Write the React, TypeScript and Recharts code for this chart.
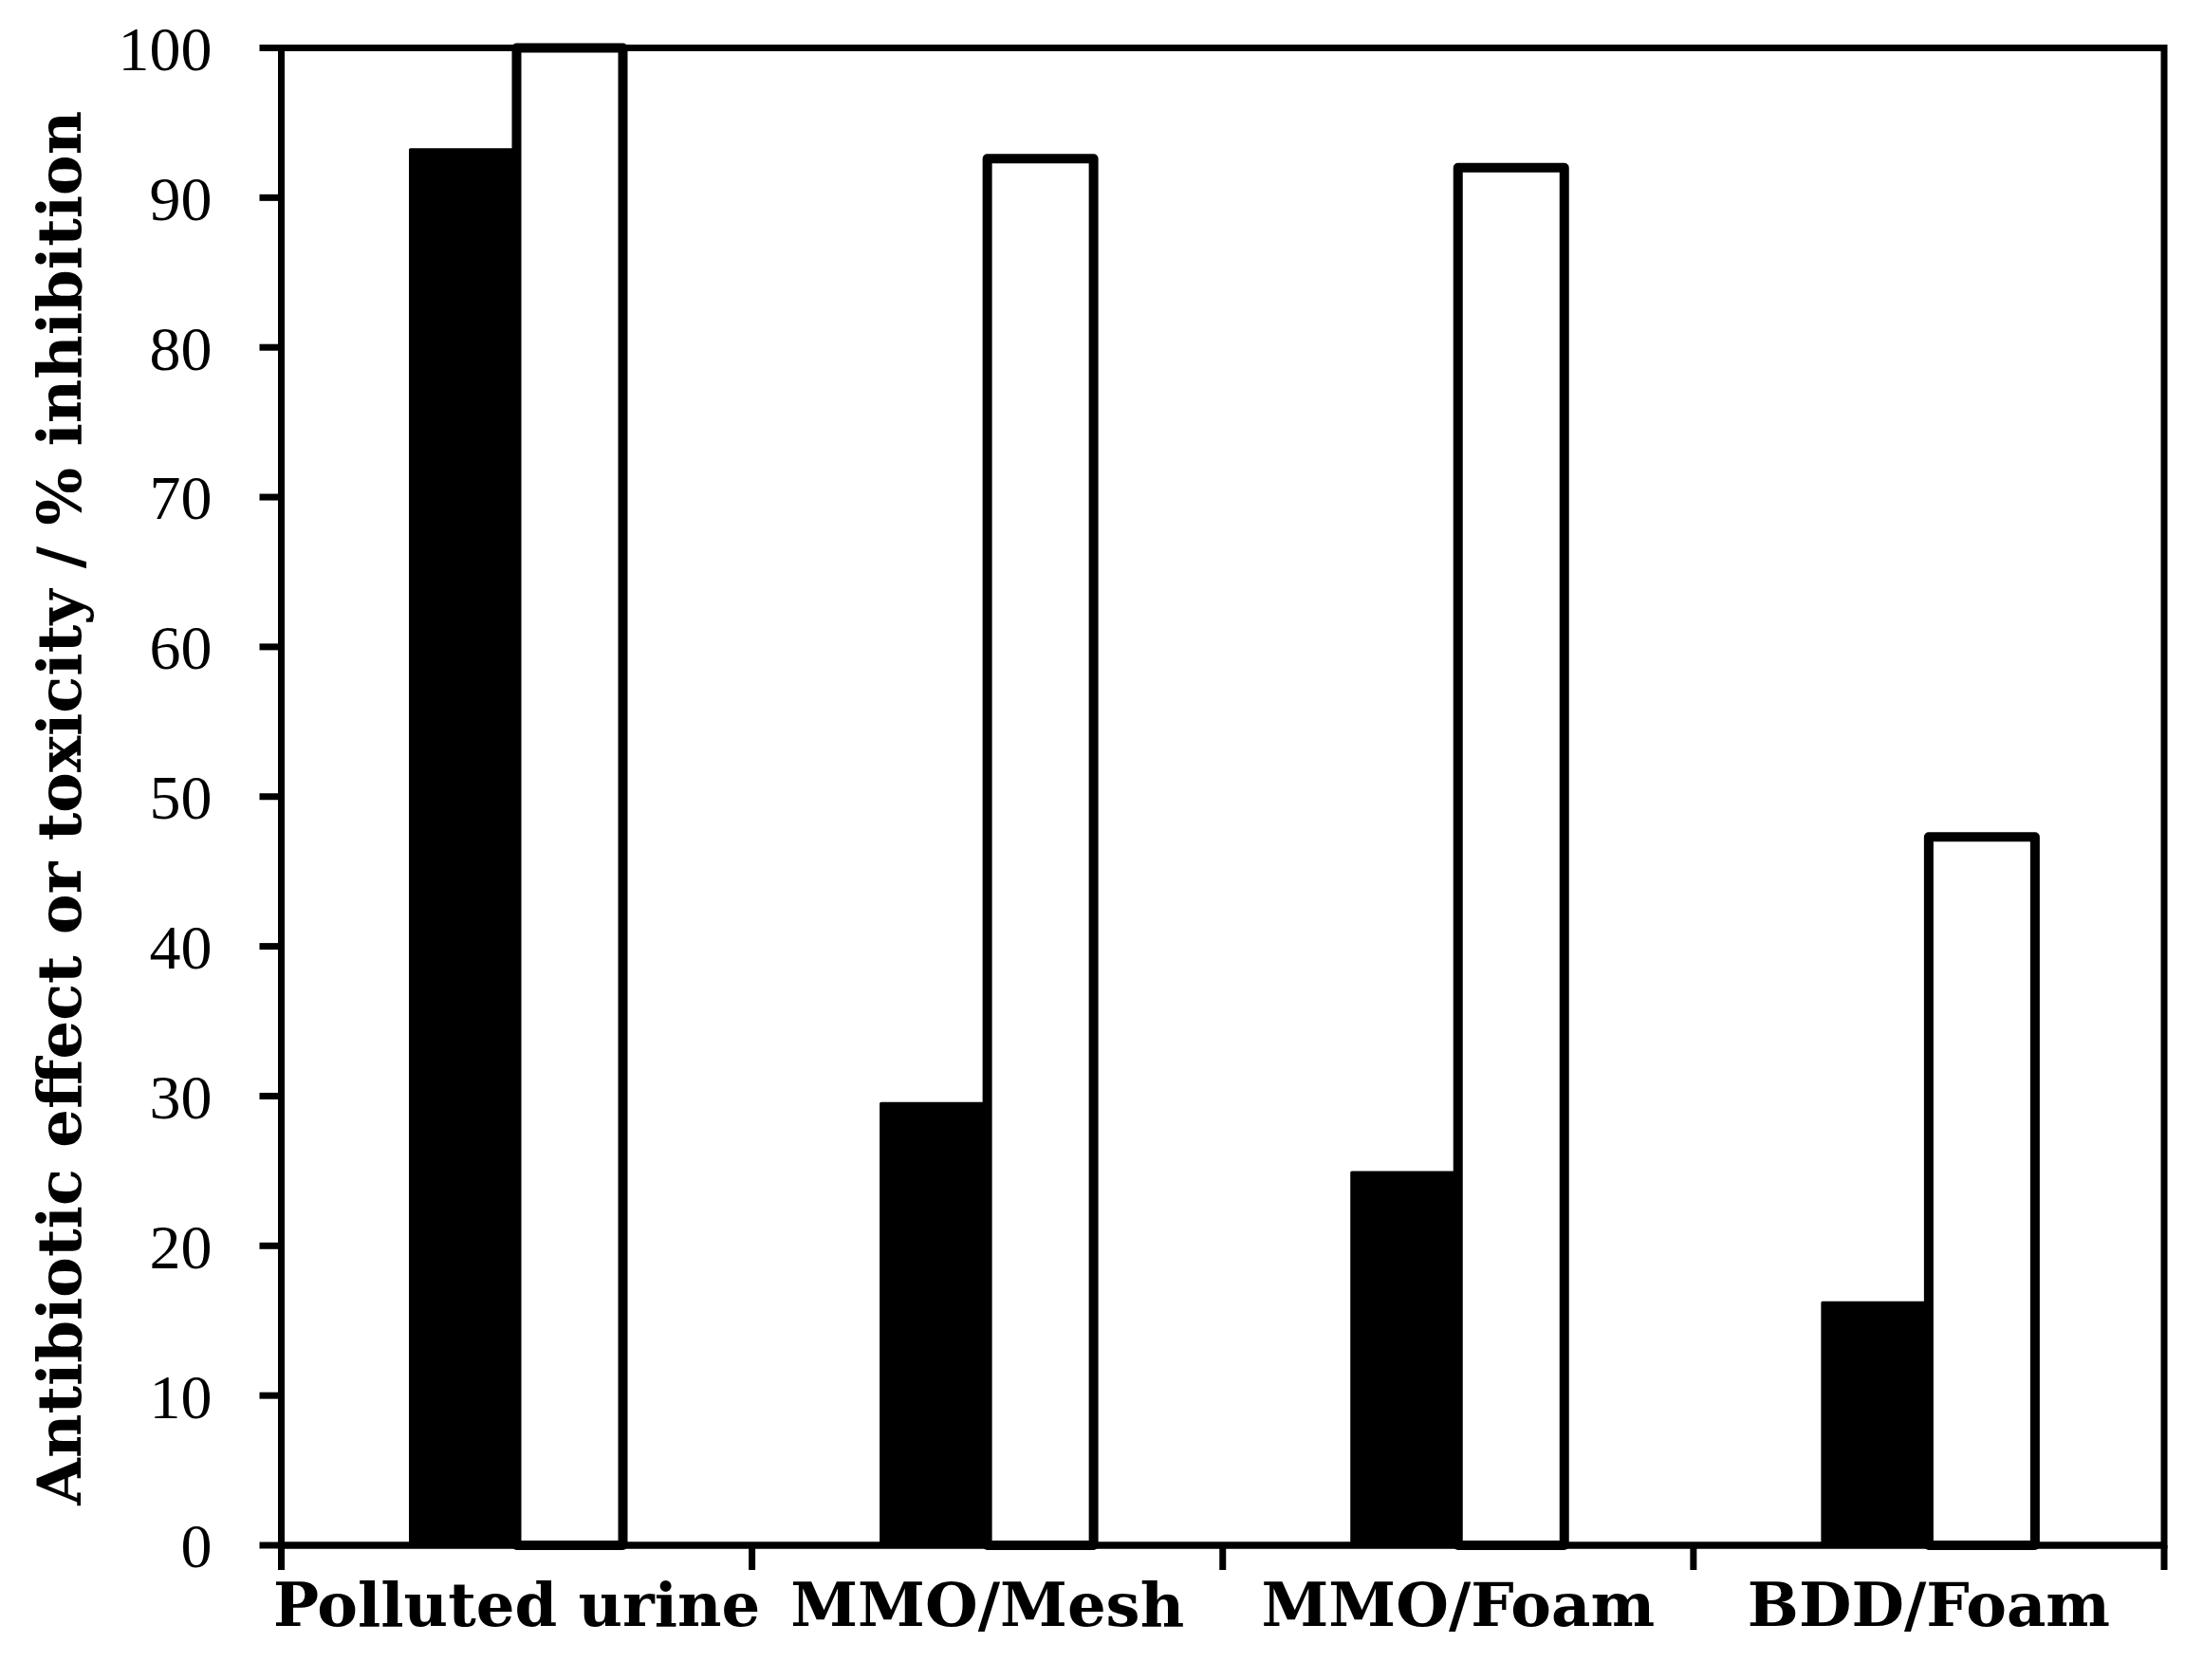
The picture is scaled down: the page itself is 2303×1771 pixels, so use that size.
import React from "react";
import { BarChart, Bar, XAxis, YAxis, Label, ReferenceArea } from "recharts";

const categories = ["Polluted urine", "MMO/Mesh", "MMO/Foam", "BDD/Foam"];
const antibioticEffect = [93.2, 29.5, 24.9, 16.2];
const toxicity = [100, 92.6, 92.0, 47.3];
const yTicks = [0, 10, 20, 30, 40, 50, 60, 70, 80, 90, 100];

const data = categories.map((name, i) => ({
  name,
  antibiotic: antibioticEffect[i],
  toxicity: toxicity[i],
}));

const BLACK = "#000";
const LINE_W = 7;
const LABEL_GAP = 40;
const tickFont = { fontFamily: "'Liberation Serif', serif", fontSize: 66, fill: BLACK };
const boldFont = { fontFamily: "'DejaVu Serif', serif", fontSize: 64, fontWeight: 700, fill: BLACK };

// category label at band centre, tick marks on band boundaries
function CategoryTick(props: any) {
  const { x, y, payload, index, visibleTicksCount } = props;
  const half = payload.offset || 0;
  const axisY = y - LABEL_GAP;
  const left = payload.coordinate - half;
  const right = payload.coordinate + half;
  const isLast = index === visibleTicksCount - 1;
  return (
    <g>
      <line x1={left} x2={left} y1={axisY} y2={axisY + 26} stroke={BLACK} strokeWidth={LINE_W} />
      {isLast && <line x1={right} x2={right} y1={axisY} y2={axisY + 26} stroke={BLACK} strokeWidth={LINE_W} />}
      <text x={x} y={y} dy="0.71em" textAnchor="middle" style={boldFont}>
        {payload.value}
      </text>
    </g>
  );
}

// rotated axis title
function renderTitle(props: any) {
  const vb = props.viewBox || {};
  const cx = 54;
  const cy = (vb.y || 0) + (vb.height || 0) / 2 + 12;
  return (
    <text
      x={cx}
      y={cy}
      transform={`rotate(-90 ${cx} ${cy})`}
      textAnchor="middle"
      dominantBaseline="central"
      style={boldFont}
    >
      Antibiotic effect or toxicity / % inhibition
    </text>
  );
}

export default function App() {
  return (
    <BarChart
      width={2287}
      height={1755}
      data={data}
      margin={{ top: 42.5, right: 14, left: 0, bottom: 34 }}
      barGap={0}
      barSize={112}
    >
      <XAxis
        dataKey="name"
        height={100}
        axisLine={{ stroke: BLACK, strokeWidth: LINE_W }}
        tickLine={false}
        tickSize={0}
        tickMargin={LABEL_GAP}
        tick={<CategoryTick />}
        interval={0}
      />
      <YAxis
        domain={[0, 100]}
        ticks={yTicks}
        interval={0}
        width={288.5}
        tickSize={23}
        tickMargin={50}
        tick={tickFont}
        tickLine={{ stroke: BLACK, strokeWidth: LINE_W }}
        axisLine={{ stroke: BLACK, strokeWidth: LINE_W }}
      >
        <Label content={renderTitle} />
      </YAxis>
      {/* plot frame */}
      <ReferenceArea
        x1={categories[0]}
        x2={categories[categories.length - 1]}
        y1={0}
        y2={100}
        fill="none"
        fillOpacity={0}
        stroke={BLACK}
        strokeWidth={LINE_W}
        strokeOpacity={1}
      />
      <Bar
        dataKey="antibiotic"
        fill={BLACK}
        stroke={BLACK}
        strokeWidth={3}
        strokeLinejoin="round"
        isAnimationActive={false}
      />
      <Bar
        dataKey="toxicity"
        fill="#fff"
        stroke={BLACK}
        strokeWidth={10}
        strokeLinejoin="round"
        isAnimationActive={false}
      />
    </BarChart>
  );
}
